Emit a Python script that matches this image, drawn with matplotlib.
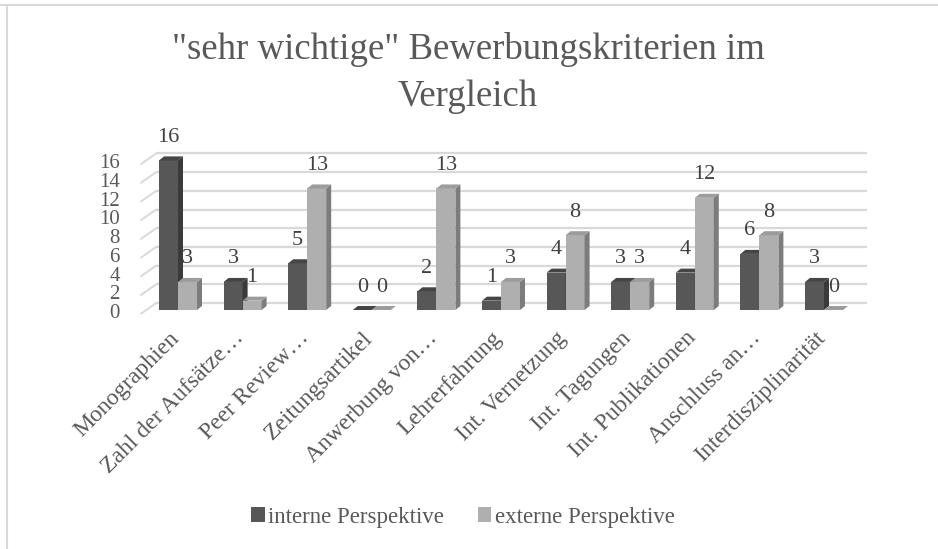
import numpy as np
import matplotlib
matplotlib.use("Agg")
import matplotlib.pyplot as plt
from matplotlib.patches import Polygon, Rectangle
from matplotlib.lines import Line2D

# --- Data ---
categories = ["Monographien", "Zahl der Aufsätze…", "Peer Review…", "Zeitungsartikel",
              "Anwerbung von…", "Lehrerfahrung", "Int. Vernetzung", "Int. Tagungen",
              "Int. Publikationen", "Anschluss an…", "Interdisziplinarität"]
intern = [16, 3, 5, 0, 2, 1, 4, 3, 4, 6, 3]
extern = [3, 1, 13, 0, 13, 3, 8, 3, 12, 8, 0]
series_names = ["interne Perspektive", "externe Perspektive"]
y_ticks = [0, 2, 4, 6, 8, 10, 12, 14, 16]
title = '"sehr wichtige" Bewerbungskriterien im\nVergleich'

plt.rcParams['font.family'] = ['Liberation Serif', 'DejaVu Serif']

W_PX, H_PX = 938, 549
fig = plt.figure(figsize=(W_PX / 100, H_PX / 100), dpi=100)

# plot plane of the bar fronts (pixel layout of the original)
left_px, right_px = 145.7, 856.3
zero_px, top_px = 310.0, 160.4
ax = fig.add_axes([left_px / W_PX, 1 - zero_px / H_PX,
                   (right_px - left_px) / W_PX, (zero_px - top_px) / H_PX])
ax.set_xlim(-0.5, len(categories) - 0.5)
ax.set_ylim(0, 16)
ax.axis('off')

# pixel -> data unit factors
sx = len(categories) / (right_px - left_px)
sy = 16 / (zero_px - top_px)

grid_c = '#d9d9d9'
text_c = '#595959'
lab_c = '#404040'

# back wall gridlines and side wall ticks
bdx, bdy = 10.5 * sx, 7 * sy      # back wall offset
fdx, fdy = -4.5 * sx, -3.5 * sy   # front edge offset
x0, x1 = ax.get_xlim()
for v in y_ticks:
    ax.plot([x0 + bdx, x1 + bdx], [v + bdy, v + bdy], color=grid_c, lw=1.6,
            clip_on=False, zorder=1, solid_capstyle='butt')
    ax.plot([x0 + fdx, x0 + bdx], [v + fdy, v + bdy], color=grid_c, lw=1.4,
            clip_on=False, zorder=1)
    ax.text(x0 - 25.7 * sx, v + fdy, str(v), ha='right', va='center',
            fontsize=15, color=text_c)

# 3D-looking bars
w = 0.294
ddx, ddy = 5 * sx, 4 * sy
styles = [('#575757', '#3a3a3a', '#454545'),
          ('#afafaf', '#7c7c7c', '#9c9c9c')]

def bar3d(xl, h, cols):
    front, side, top = cols
    ax.add_patch(Rectangle((xl, 0), w, h, facecolor=front, edgecolor='none',
                           clip_on=False, zorder=3))
    ax.add_patch(Polygon([(xl + w, 0), (xl + w + ddx, ddy), (xl + w + ddx, h + ddy),
                          (xl + w, h)], closed=True, facecolor=side,
                         edgecolor='none', clip_on=False, zorder=3))
    ax.add_patch(Polygon([(xl, h), (xl + w, h), (xl + w + ddx, h + ddy),
                          (xl + ddx, h + ddy)], closed=True, facecolor=top,
                         edgecolor='none', clip_on=False, zorder=3))

for i in range(len(categories)):
    bar3d(i - w, intern[i], styles[0])
    bar3d(i, extern[i], styles[1])
    ax.text(i - w / 2, intern[i] + 23 * sy, str(intern[i]), ha='center',
            va='center', fontsize=16, color=lab_c, zorder=5)
    ax.text(i + w / 2, extern[i] + 23 * sy, str(extern[i]), ha='center',
            va='center', fontsize=16, color=lab_c, zorder=5)
    ax.text(i - 2 * sx, -25 * sy, categories[i], rotation=45,
            rotation_mode='anchor', ha='right', va='center', fontsize=17,
            color=text_c)

# title
fig.text(468 / W_PX, 1 - 73 / H_PX, title, ha='center', va='center',
         fontsize=26.5, color=text_c, linespacing=1.45)

# legend
handles = [Rectangle((0, 0), 1, 1, facecolor=styles[0][0], edgecolor='none'),
           Rectangle((0, 0), 1, 1, facecolor=styles[1][0], edgecolor='none')]
fig.legend(handles, series_names, loc='center', ncol=2, frameon=False,
           bbox_to_anchor=(463 / W_PX, 1 - 517 / H_PX), fontsize=16.5,
           handlelength=0.6, handleheight=0.6, handletextpad=0.15,
           columnspacing=1.46, labelcolor=text_c)

# chart frame (top and left edges)
fig.add_artist(Line2D([0, 1], [1 - 4.5 / H_PX] * 2, color=grid_c, lw=1.5))
fig.add_artist(Line2D([6.5 / W_PX] * 2, [0, 1 - 4.5 / H_PX], color=grid_c, lw=1.5))

fig.savefig('out.png', dpi=100, facecolor='white')
